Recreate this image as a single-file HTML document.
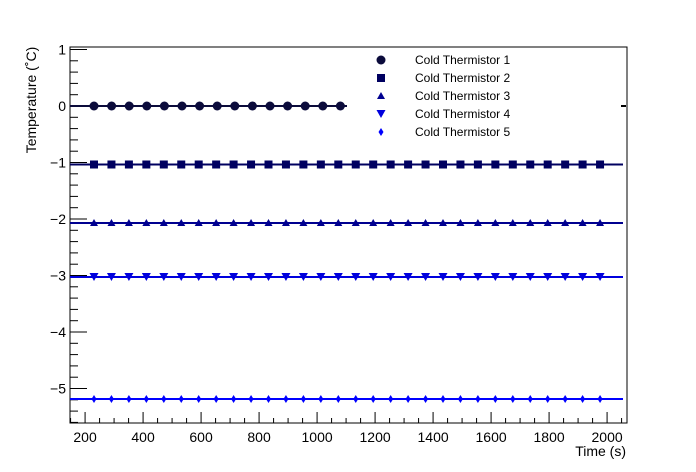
<!DOCTYPE html>
<html><head><meta charset="utf-8"><style>
body{margin:0;background:#fff}
svg{display:block;font-family:"Liberation Sans",Arial,sans-serif}
</style></head><body>
<svg id="s" width="696" height="472" viewBox="0 0 696 472"></svg>
<script>
const s=document.getElementById('s');let h='';
const X=v=>70+(v-148)*0.29, Y=v=>106-v*56.5;
h+='<rect x="70" y="47" width="557" height="376" fill="none" stroke="#000" stroke-width="1"/>';
for(let v=150;v<=2050;v+=50){const x=X(v);const maj=v%200==0;h+=`<line x1="${x}" y1="423" x2="${x}" y2="${423-(maj?11:5)}" stroke="#000"/>`;
if(maj)h+=`<text x="${x}" y="442" font-size="14" text-anchor="middle">${v}</text>`;}
for(let i=-28;i<=5;i++){const v=i/5;const y=Y(v);if(y<47||y>423)continue;const maj=i%5==0;h+=`<line x1="70" y1="${y}" x2="${70+(maj?17:8)}" y2="${y}" stroke="#000"/>`;
if(maj)h+=`<text x="66" y="${y+5}" font-size="14" text-anchor="end">${v==0?'0':(v>0?v:'−'+(-v))}</text>`;}
h+='<line x1="621" y1="106" x2="626" y2="106" stroke="#000" stroke-width="2"/>';
h+=`<text transform="translate(36,100) rotate(-90)" font-size="14" text-anchor="middle">Temperature (˚C)</text>`;
h+=`<text x="626" y="456" font-size="14" text-anchor="end">Time (s)</text>`;
function mk(t,x,y,c){if(t==0)return `<circle cx="${x}" cy="${y}" r="4.5" fill="${c}"/>`;
if(t==1)return `<rect x="${x-4}" y="${y-4}" width="8" height="8" fill="${c}"/>`;
if(t==2)return `<polygon points="${x},${y-4} ${x+4},${y+3} ${x-4},${y+3}" fill="${c}"/>`;
if(t==3)return `<polygon points="${x-4.5},${y-4} ${x+4.5},${y-4} ${x},${y+4}" fill="${c}"/>`;
return `<polygon points="${x},${y-4} ${x+2.5},${y} ${x},${y+4} ${x-2.5},${y}" fill="${c}"/>`;}
const ser=[[106,'#0b0b3b',347],[164.5,'#000060',623],[223,'#000090',623],[277,'#0000dd',623],[399,'#0000ff',623]];
ser.forEach((d,t)=>{h+=`<line x1="70" y1="${d[0]}" x2="${d[2]}" y2="${d[0]}" stroke="${d[1]}" stroke-width="2"/>`;
const n=t==0?15:30;const sp=t==0?17.6:17.45;
for(let k=0;k<n;k++)h+=mk(t,94+k*sp,d[0],d[1]);});
['Cold Thermistor 1','Cold Thermistor 2','Cold Thermistor 3','Cold Thermistor 4','Cold Thermistor 5'].forEach((n,i)=>{const y=60+i*18;
h+=mk(i,381,y,ser[i][1]);h+=`<text x="415" y="${y+4}" font-size="12">${n}</text>`;});
s.innerHTML=h;
</script>
</body></html>
